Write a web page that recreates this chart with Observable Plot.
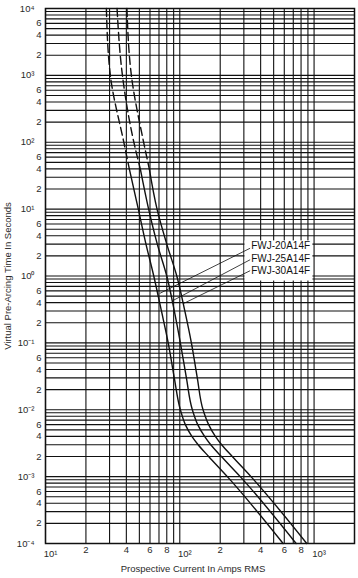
<!DOCTYPE html>
<html><head><meta charset="utf-8">
<script src="https://cdn.jsdelivr.net/npm/d3@7"></script>
<script src="https://cdn.jsdelivr.net/npm/@observablehq/plot@0.6"></script>
<style>
html,body{margin:0;padding:0;background:#fff;}
#chart svg{display:block;}
</style></head><body><div id="chart"></div>
<script>
// Pre-arcing time (s) at which each current was read
const times = [1e4, 1e3, 100, 40, 10, 3, 1, 0.3, 0.1, 0.03, 0.01, 0.006, 0.004, 0.003, 0.002, 0.001, 1e-4];
// Prospective current (A RMS) per fuse
const fwj20 = [28.4, 30.4, 38.3, 42.1, 49.1, 56, 64, 73, 82, 91, 101, 110, 123, 137, 164, 226, 588];
const fwj25 = [34.1, 37.4, 45.5, 50.8, 58.6, 68, 80, 91, 101, 112, 124, 136, 153, 170, 204, 282, 735];
const fwj30 = [40.4, 43.6, 53.8, 59.3, 67.7, 80, 95, 109, 122, 135, 149, 164, 184, 205, 246, 339, 882];
const seriesNames = ["FWJ-20A14F", "FWJ-25A14F", "FWJ-30A14F"];
const seriesCurrents = [fwj20, fwj25, fwj30];
const dashAbove = 40; // curves dashed above this time

// annotation (label box and leader lines), in data units
const labelX = 340;
const labelTimes = [2.8, 1.83, 1.19];
const leaderStartX = 334;
const leaderStartTimes = [2.6, 1.75, 1.2];
const leaderEndCurrents = [71, 89, 106];
const leaderEndTimes = [0.55, 0.43, 0.385];
const labelBox = [{x1: 306, x2: 980, y1: 0.84, y2: 3.35}];

// axes
const mantissas = [1, 2, 3, 4, 5, 6, 7, 8, 9];
const xDecadeTicks = [10, 100, 1000];
const xLabelMantissas = [2, 4, 6, 8];
const yDecadeExps = [-4, -3, -2, -1, 0, 1, 2, 3, 4];
const yLabelMantissas = [2, 4, 6];
const xTitle = "Prospective Current In Amps RMS";
const yTitle = "Virtual Pre-Arcing Time In Seconds";

const xGrid = [10, 100].flatMap(d => mantissas.map(m => m * d)).concat([1000]);
const yGrid = yDecadeExps.slice(0, -1).flatMap(e => mantissas.map(m => +(m * 10 ** e).toPrecision(3)));
const xMantTicks = [10, 100].flatMap(d => xLabelMantissas.map(m => m * d));
const yMantTicks = yDecadeExps.slice(0, -1).flatMap(e => yLabelMantissas.map(m => +(m * 10 ** e).toPrecision(3)));
const yDecTicks = yDecadeExps.map(e => 10 ** e);

const supMap = {"-": "\u207B", "0": "\u2070", "1": "\u00B9", "2": "\u00B2", "3": "\u00B3", "4": "\u2074", "5": "\u2075", "6": "\u2076", "7": "\u2077", "8": "\u2078", "9": "\u2079"};
const sup = k => String(k).split("").map(c => supMap[c]).join("");
const decLabel = d => "10" + sup(Math.round(Math.log10(d)));
const mantLabel = d => String(Math.round(d / 10 ** Math.floor(Math.log10(d) + 1e-9)));

const rows = [];
seriesNames.forEach((name, s) => times.forEach((t, i) => rows.push({series: name, t, I: seriesCurrents[s][i]})));
const labels = seriesNames.map((name, i) => ({
  name, t: labelTimes[i], t0: leaderStartTimes[i], I1: leaderEndCurrents[i], t1: leaderEndTimes[i]
}));

const ink = "#111";
const txt = "#2a2a2a";
const fs = 9.5;
const chart = Plot.plot({
  width: 358, height: 578,
  marginTop: 8, marginBottom: 35, marginLeft: 45, marginRight: 4,
  style: {fontFamily: "'Liberation Sans', Arial, sans-serif", background: "#fff"},
  x: {type: "log", domain: [10, 2000], axis: null},
  y: {type: "log", domain: [1e-4, 1e4], axis: null},
  marks: [
    Plot.ruleX(xGrid, {stroke: ink, strokeWidth: 1.1}),
    Plot.ruleY(yGrid, {stroke: ink, strokeWidth: 1.1}),
    Plot.rect(labelBox, {x1: "x1", x2: "x2", y1: "y1", y2: "y2", fill: "#fff"}),
    Plot.frame({stroke: ink, strokeWidth: 1.5}),
    Plot.line(rows.filter(d => d.t >= dashAbove), {x: "I", y: "t", z: "series", stroke: ink, strokeWidth: 1.4, strokeDasharray: "8,4", curve: "monotone-y"}),
    Plot.line(rows.filter(d => d.t <= dashAbove), {x: "I", y: "t", z: "series", stroke: ink, strokeWidth: 1.4, curve: "monotone-y"}),
    Plot.link(labels, {x1: leaderStartX, y1: "t0", x2: "I1", y2: "t1", stroke: ink, strokeWidth: 0.8}),
    Plot.text(labels, {x: labelX, y: "t", text: "name", textAnchor: "start", fontSize: 10, fill: ink}),
    // y tick labels
    Plot.text(yMantTicks, {y: d => d, text: mantLabel, frameAnchor: "left", textAnchor: "end", dx: -4, fontSize: fs, fill: txt}),
    Plot.text(yDecTicks, {y: d => d, text: decLabel, frameAnchor: "left", textAnchor: "end", dx: -11, fontSize: fs, fill: txt}),
    // x tick labels
    Plot.text(xMantTicks, {x: d => d, text: mantLabel, frameAnchor: "bottom", lineAnchor: "top", dy: 3, fontSize: fs, fill: txt}),
    Plot.text(xDecadeTicks, {x: d => d, text: decLabel, frameAnchor: "bottom", lineAnchor: "top", dy: 7, dx: 5, fontSize: fs, fill: txt}),
    // titles
    Plot.text([xTitle], {frameAnchor: "bottom", lineAnchor: "middle", textAnchor: "middle", dy: 25, dx: -7, fontSize: fs, fill: txt}),
    Plot.text([yTitle], {frameAnchor: "left", lineAnchor: "middle", textAnchor: "middle", dx: -38, rotate: -90, fontSize: fs, fill: txt})
  ]
});
document.getElementById("chart").append(chart);
</script>
</body></html>
